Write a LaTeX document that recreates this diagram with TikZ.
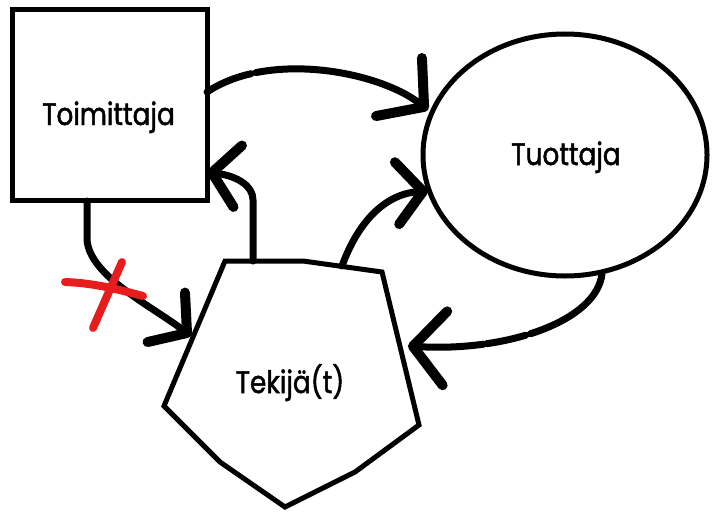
\documentclass[tikz,border=0pt]{standalone}
\usepackage{fontspec}
\setmainfont{Poppins}[FakeStretch=0.85,FakeBold=1.6]
\usetikzlibrary{arrows.meta,shapes.geometric}
\definecolor{xred}{RGB}{232,28,28}
\begin{document}
\begin{tikzpicture}[x=1pt,y=-1pt,
  shapeline/.style={line width=5pt},
  lbl/.style={font=\fontsize{31}{34}\selectfont, anchor=base, inner sep=0pt},
  conn/.style={line width=7pt, line cap=round, line join=round,
    -{Straight Barb[length=26pt,width=62pt,line width=10pt,round]}},
  connbig/.style={line width=7pt, line cap=round, line join=round,
    -{Straight Barb[length=32pt,width=74pt,line width=10pt,round]}},
  redx/.style={xred, line width=8pt, line cap=round}]
\useasboundingbox (0,0) rectangle (719,516);
% shapes
\node[draw, shapeline, minimum width=195pt, minimum height=190pt, inner sep=0pt] (toim) at (109.5,105) {};
\node[draw, ellipse, shapeline, minimum width=284pt, minimum height=242pt, inner sep=0pt] (tuot) at (565,155) {};
\coordinate (p1) at (225,261);
\coordinate (p2) at (303,261);
\coordinate (p3) at (382,272);
\coordinate (p4) at (419,425);
\coordinate (p5) at (355,472);
\coordinate (p6) at (285,507);
\coordinate (p7) at (220,462);
\coordinate (p8) at (164,406);
\draw[shapeline, line join=miter] (p1) -- (p2) -- (p3) -- (p4) -- (p5) -- (p6) -- (p7) -- (p8) -- cycle;
% labels
\node[lbl] (toimtxt) at (108.5,125) {Toimittaja};
\node[lbl] (tuottxt) at (566,165) {Tuottaja};
\node[lbl] (tektxt) at (290,393) {Tekijä(t)};
% connector end points
\coordinate (a1) at (207,92);
\coordinate (b1) at (428,110);
\coordinate (a2) at (253,261);
\coordinate (b2) at (207,172);
\coordinate (a3) at (342,266);
\coordinate (b3) at (428,191);
\coordinate (a4) at (602,274);
\coordinate (b4) at (408,346);
\coordinate (a5) at (87,201);
\coordinate (b5) at (191,336);
% connectors
\draw[connbig, dash pattern=on 48pt off 5pt on 1000pt] (a1) .. controls (270,50) and (380,72) .. (b1);
\draw[conn] (a2) -- (253,200) .. controls (253,185) and (236,176) .. (b2);
\draw[conn] (a3) .. controls (358,222) and (385,194) .. (b3);
\draw[connbig, dash pattern=on 98pt off 5pt on 40pt off 3pt on 1000pt] (a4) .. controls (596,322) and (505,352) .. (b4);
\draw[conn] (a5) -- (87,240) .. controls (90,276) and (150,305) .. (b5);
% red cross
\draw[redx] (65,282) .. controls (95,283) and (120,290) .. (143,296);
\draw[redx] (122,262) -- (93,328);
\end{tikzpicture}
\end{document}
